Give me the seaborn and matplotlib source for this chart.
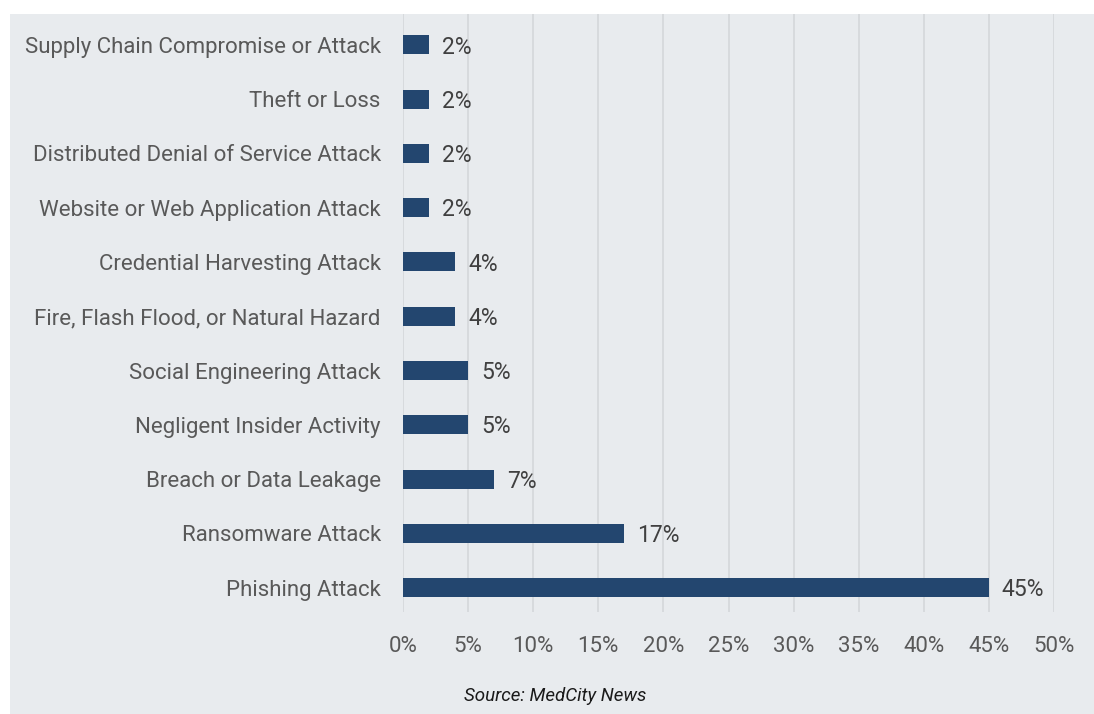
import matplotlib
matplotlib.use("Agg")
import matplotlib.pyplot as plt
import seaborn as sns
import pandas as pd
from matplotlib.patches import Rectangle

categories = [
    "Supply Chain Compromise or Attack",
    "Theft or Loss",
    "Distributed Denial of Service Attack",
    "Website or Web Application Attack",
    "Credential Harvesting Attack",
    "Fire, Flash Flood, or Natural Hazard",
    "Social Engineering Attack",
    "Negligent Insider Activity",
    "Breach or Data Leakage",
    "Ransomware Attack",
    "Phishing Attack",
]
shares = [2, 2, 2, 2, 4, 4, 5, 5, 7, 17, 45]
xticks = [0, 5, 10, 15, 20, 25, 30, 35, 40, 45, 50]

bg = "#e8ebee"
bar_color = "#23466f"

sns.set_style("white")
plt.rcParams["font.family"] = ["Roboto", "DejaVu Sans"]

df = pd.DataFrame({"category": categories, "share": shares})

fig = plt.figure(figsize=(10.94, 7.14), dpi=100, facecolor="white")
fig.patches.append(Rectangle((10 / 1094, 0), 1, 1 - 14 / 714, transform=fig.transFigure,
                             facecolor=bg, edgecolor="none", zorder=-1))
ax = fig.add_axes([403 / 1094, 1 - 612 / 714, 651 / 1094, (612 - 14) / 714])
ax.patch.set_alpha(0)

sns.barplot(data=df, x="share", y="category", color=bar_color, width=0.35,
            saturation=1, linewidth=0, ax=ax, zorder=3)

ax.set_xlim(0, 50)
ax.set_ylim(10.45, -0.57)
ax.set_xticks(xticks)
ax.set_xticklabels([f"{t}%" for t in xticks])
ax.grid(axis="x", color="#d6d9dc", linewidth=1.3, zorder=0)
ax.set_axisbelow(True)
for s in ax.spines.values():
    s.set_visible(False)
ax.tick_params(axis="both", length=0, labelsize=16, labelcolor="#595959")
ax.tick_params(axis="y", pad=16)
ax.tick_params(axis="x", pad=17)
ax.set_xlabel("")
ax.set_ylabel("")

for i, v in enumerate(shares):
    ax.text(v + 1.0, i + 0.04, f"{v}%", va="center", ha="left", fontsize=16.5, color="#404040")

fig.text(555 / 1094, 1 - 696 / 714, "Source: MedCity News", ha="center", va="center",
         fontsize=13.5, style="italic", color="#1a1a1a")

fig.savefig("out.png", dpi=100, facecolor="white")
